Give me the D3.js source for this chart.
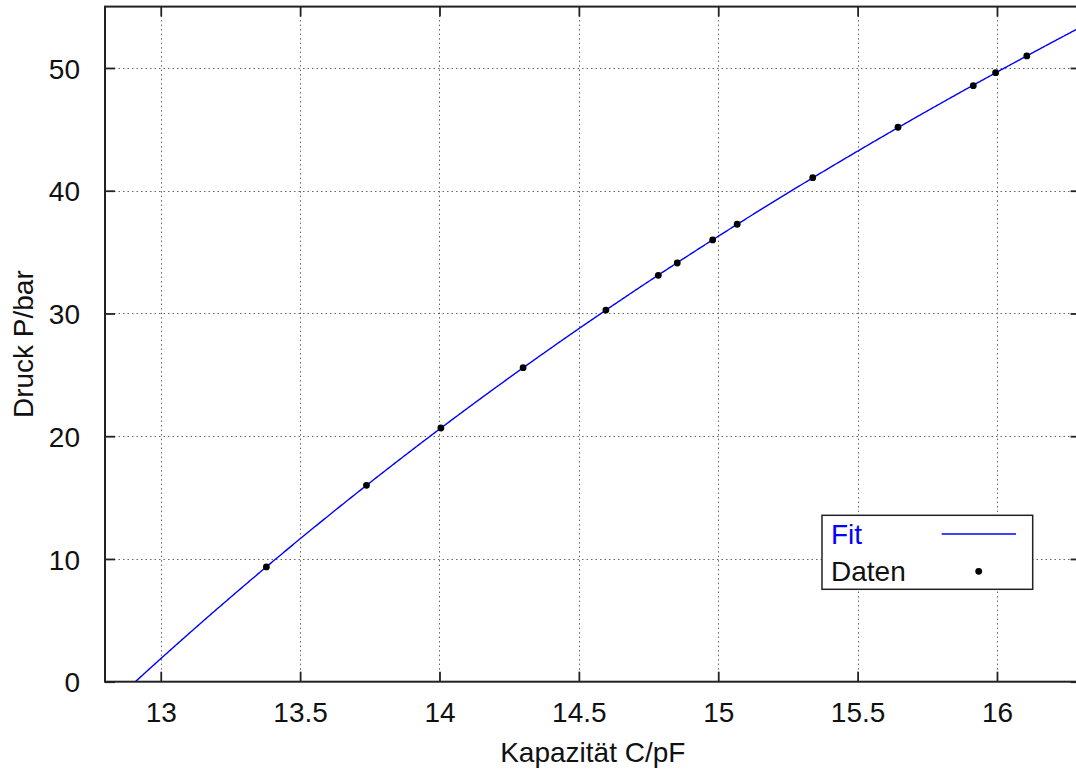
<!DOCTYPE html>
<html>
<head>
<meta charset="utf-8">
<script src="https://cdn.jsdelivr.net/npm/d3@7"></script>
<style>
  html, body { margin: 0; padding: 0; background: #fff; }
  svg { display: block; font-family: "Liberation Sans", Arial, Helvetica, sans-serif; }
</style>
</head>
<body>
<svg id="chart" width="1076" height="769"></svg>
<script>
// Messwerte: Kapazität (pF) und Druck (bar)
const capacitance = [13.379, 13.738, 14.005, 14.300, 14.597, 14.785, 14.853, 14.980, 15.068, 15.339, 15.645, 15.915, 15.995, 16.107];
const pressure    = [9.35, 16.00, 20.67, 25.58, 30.28, 33.11, 34.11, 35.99, 37.27, 41.06, 45.17, 48.56, 49.62, 50.98];

const xTicks = [13, 13.5, 14, 14.5, 15, 15.5, 16];
const yTicks = [0, 10, 20, 30, 40, 50];
const xDomain = [12.8, 16.3];
const yDomain = [0, 55];
const legendLabels = ["Fit", "Daten"];

const margin = { left: 105, top: 6.6, right: 1080.6, bottom: 681.7 };

const svg = d3.select("#chart");
const x = d3.scaleLinear().domain(xDomain).range([margin.left, margin.right]);
const y = d3.scaleLinear().domain(yDomain).range([margin.bottom, margin.top]);

// Kubischer Least-Squares-Fit P(C) = a0 + a1 u + a2 u^2 + a3 u^3, u = C - 13
function polyFit(xs, ys, deg, x0) {
  const n = deg + 1;
  const A = Array.from({ length: n }, () => new Array(n + 1).fill(0));
  xs.forEach((xv, k) => {
    const u = xv - x0;
    for (let i = 0; i < n; i++) {
      for (let j = 0; j < n; j++) A[i][j] += Math.pow(u, i + j);
      A[i][n] += ys[k] * Math.pow(u, i);
    }
  });
  for (let i = 0; i < n; i++) {
    let p = i;
    for (let r = i + 1; r < n; r++) if (Math.abs(A[r][i]) > Math.abs(A[p][i])) p = r;
    [A[i], A[p]] = [A[p], A[i]];
    for (let r = 0; r < n; r++) {
      if (r === i) continue;
      const f = A[r][i] / A[i][i];
      for (let c = i; c <= n; c++) A[r][c] -= f * A[i][c];
    }
  }
  return A.map((row, i) => row[n] / row[i]);
}
const coef = polyFit(capacitance, pressure, 3, 13);
const fitFn = c => coef.reduce((s, a, i) => s + a * Math.pow(c - 13, i), 0);

// Clip area
svg.append("defs").append("clipPath").attr("id", "plotClip")
  .append("rect")
  .attr("x", margin.left).attr("y", margin.top)
  .attr("width", margin.right - margin.left).attr("height", margin.bottom - margin.top);

// Grid
const grid = svg.append("g").attr("stroke", "#666").attr("stroke-width", 1).attr("stroke-dasharray", "1.5,3");
grid.selectAll("line.vx").data(xTicks).join("line")
  .attr("x1", d => Math.round(x(d)) + 0.5).attr("x2", d => Math.round(x(d)) + 0.5)
  .attr("y1", margin.top).attr("y2", margin.bottom);
grid.selectAll("line.hy").data(yTicks.filter(d => d > 0)).join("line")
  .attr("x1", margin.left).attr("x2", margin.right)
  .attr("y1", d => Math.round(y(d)) + 0.5).attr("y2", d => Math.round(y(d)) + 0.5);

// Axes (ticks inward, mirrored)
const tickLen = 10;
const axB = d3.axisBottom(x).tickValues(xTicks).tickSize(-tickLen).tickPadding(tickLen + 10).tickFormat(d3.format("~g"));
const axT = d3.axisTop(x).tickValues(xTicks).tickSize(-tickLen).tickFormat("");
const axL = d3.axisLeft(y).tickValues(yTicks).tickSize(-tickLen).tickPadding(tickLen + 15).tickFormat(d3.format("d"));
const axR = d3.axisRight(y).tickValues(yTicks).tickSize(-tickLen).tickFormat("");

function styleAxis(g) {
  g.select(".domain").remove();
  g.selectAll(".tick line").attr("stroke", "#222").attr("stroke-width", 1.8);
  g.selectAll(".tick text").attr("fill", "#111").style("font-size", "28px")
    .style("font-family", "'Liberation Sans', Arial, sans-serif");
}
svg.append("g").attr("transform", `translate(0,${margin.bottom})`).call(axB).call(styleAxis)
  .selectAll(".tick text").attr("dy", "0.72em");
svg.append("g").attr("transform", `translate(0,${margin.top})`).call(axT).call(styleAxis);
svg.append("g").attr("transform", `translate(${margin.left},0)`).call(axL).call(styleAxis)
  .selectAll(".tick text").attr("dy", "0.36em");
svg.append("g").attr("transform", `translate(${margin.right},0)`).call(axR).call(styleAxis);

// Fit curve
const cs = d3.range(0, 801).map(i => xDomain[0] + (xDomain[1] - xDomain[0]) * i / 800);
const line = d3.line().x(d => x(d)).y(d => y(fitFn(d)));
svg.append("path")
  .datum(cs.filter(c => fitFn(c) >= -0.5))
  .attr("clip-path", "url(#plotClip)")
  .attr("fill", "none").attr("stroke", "#0000ff").attr("stroke-width", 1.4)
  .attr("d", line);

// Data points
svg.append("g").selectAll("circle").data(capacitance).join("circle")
  .attr("cx", (d) => x(d)).attr("cy", (d, i) => y(pressure[i]))
  .attr("r", 3.4).attr("fill", "#000");

// Frame
svg.append("rect")
  .attr("x", margin.left).attr("y", margin.top)
  .attr("width", margin.right - margin.left).attr("height", margin.bottom - margin.top)
  .attr("fill", "none").attr("stroke", "#222").attr("stroke-width", 2);

// Axis titles
svg.append("text").attr("x", (margin.left + margin.right) / 2).attr("y", 761.5)
  .attr("text-anchor", "middle").attr("fill", "#111").style("font-size", "28px")
  .text("Kapazität C/pF");
svg.append("text").attr("transform", `translate(33,${(margin.top + margin.bottom) / 2}) rotate(-90)`)
  .attr("text-anchor", "middle").attr("fill", "#111").style("font-size", "28px")
  .text("Druck P/bar");

// Legend
const lg = svg.append("g");
lg.append("rect").attr("x", 822).attr("y", 515.3).attr("width", 210.7).attr("height", 74)
  .attr("fill", "#fff").attr("stroke", "#222").attr("stroke-width", 1.5);
lg.append("text").attr("x", 831).attr("y", 544).attr("fill", "#0000ff").style("font-size", "28px").text(legendLabels[0]);
lg.append("text").attr("x", 831).attr("y", 581.3).attr("fill", "#111").style("font-size", "28px").text(legendLabels[1]);
lg.append("line").attr("x1", 941.7).attr("x2", 1016).attr("y1", 534).attr("y2", 534)
  .attr("stroke", "#0000ff").attr("stroke-width", 1.4);
lg.append("circle").attr("cx", 978.7).attr("cy", 571.3).attr("r", 3.4).attr("fill", "#000");
</script>
</body>
</html>
